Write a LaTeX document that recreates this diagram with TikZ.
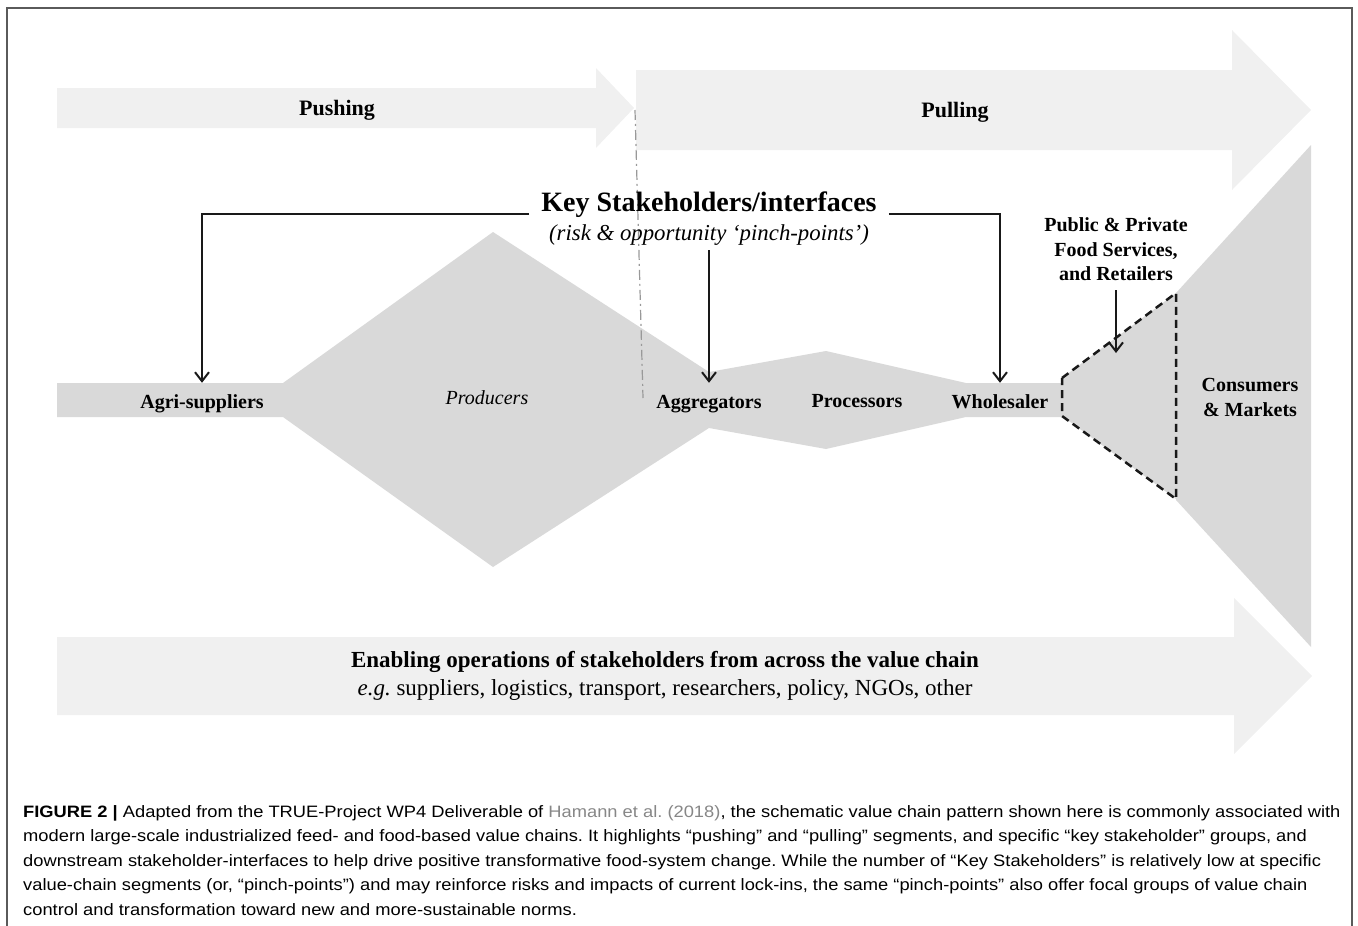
\documentclass[tikz,border=0pt]{standalone}
\usepackage{fontspec}
\setmainfont{Liberation Serif}
\newfontfamily\captionfont[FakeStretch=1.11]{Liberation Sans}
\usepackage{tikz}
\usepackage{xcolor}
\usetikzlibrary{positioning, arrows.meta}
\definecolor{vcarrow}{RGB}{240, 240, 240}
\definecolor{vcgray}{RGB}{217, 217, 217}
\definecolor{vcline}{RGB}{25, 25, 25}
\definecolor{vcframe}{RGB}{90, 90, 90}
\definecolor{vclink}{RGB}{135, 135, 135}
\tikzset{
    flowarrow/.style={fill=vcarrow, draw=none},
    chainshape/.style={fill=vcgray, draw=none},
    stagelabel/.style={font=\fontsize{20pt}{24pt}\selectfont\bfseries, text height=14pt, text depth=4pt, inner xsep=2pt, inner ysep=11pt, anchor=base},
    bandlabel/.style={font=\fontsize{22pt}{26pt}\selectfont\bfseries},
    keylink/.style={draw=vcline, line width=2pt, -{Straight Barb[length=9pt, width=14pt]}},
    pinchzone/.style={draw=vcline, line width=2.5pt, dash pattern=on 8pt off 5pt, fill=vcgray},
    divider/.style={draw=gray!80, line width=1.2pt, dash pattern=on 10pt off 4pt on 2pt off 4pt}
}
\frenchspacing

\begin{document}
\begin{tikzpicture}[x=1pt, y=-1pt]
\useasboundingbox (0,0) rectangle (1358,926);
\draw[vcframe, line width=1.2pt] (7,926) -- (7,8) -- (1352,8) -- (1352,926);

% pushing, pulling and enabling bands
\fill[flowarrow] (57,88) -- (596,88) -- (596,68) -- (634,108) -- (596,148) -- (596,128) -- (57,128) -- cycle;
\fill[flowarrow] (636,70) -- (1232,70) -- (1232,30) -- (1311,110) -- (1232,190) -- (1232,150) -- (636,150) -- cycle;
\fill[flowarrow] (57,637) -- (1234,637) -- (1234,598) -- (1312,676) -- (1234,754) -- (1234,715) -- (57,715) -- cycle;

% the value chain itself
\fill[chainshape] (57,383) -- (283,383) -- (493,232) -- (709,372) -- (826,351) -- (966,383) -- (1062,383)
    -- (1062,417) -- (966,417) -- (826,449) -- (709,428) -- (493,567) -- (283,417) -- (57,417) -- cycle;
\fill[chainshape] (1176,293) -- (1311,145) -- (1311,647) -- (1176,500) -- cycle;
\draw[pinchzone] (1062,378) -- (1176,293) -- (1176,499) -- (1062,416) -- cycle;
\draw[divider] (635,110) -- (643,398);

\node[bandlabel] (push) at (337,110) {Pushing};
\node[bandlabel] (pull) at (955,112) {Pulling};

\node[font=\fontsize{28pt}{32pt}\selectfont\bfseries, inner xsep=12pt, anchor=base] (ks) at (709,211) {Key Stakeholders/interfaces};
\node[font=\fontsize{22.8pt}{26pt}\selectfont\itshape, text depth=5pt, inner ysep=5pt, anchor=base] (ksub) at (709,240) {(risk \& opportunity ‘pinch-points’)};

\node[stagelabel] (agri) at (202,408) {Agri-suppliers};
\node[stagelabel, font=\fontsize{20pt}{24pt}\selectfont\itshape] (prod) at (487,404) {Producers};
\node[stagelabel] (aggr) at (709,408) {Aggregators};
\node[stagelabel] (proc) at (857,407) {Processors};
\node[stagelabel] (whole) at (1000,408) {Wholesaler};
\node[font=\fontsize{20pt}{25pt}\selectfont\bfseries, align=center] (cons) at (1250,397) {Consumers\\\& Markets};
\node[font=\fontsize{20pt}{24.5pt}\selectfont\bfseries, align=center, anchor=south, inner xsep=4pt, inner ysep=9pt] (pub) at (1116,290) {Public \& Private\\Food Services,\\and Retailers};
\coordinate (pubtip) at (1116,353);

\draw[keylink] ([yshift=-3pt]ks.base west) -| (agri.north);
\draw[keylink] ([yshift=-3pt]ks.base east) -| (whole.north);
\draw[keylink] (ksub.south) -- (aggr.north);
\draw[keylink] (pub.south) -- (pubtip);

\node[font=\fontsize{23pt}{28pt}\selectfont, align=center] (enab) at (665,676)
    {\textbf{Enabling operations of stakeholders from across the value chain}\\\textit{e.g.}\ suppliers, logistics, transport, researchers, policy, NGOs, other};

% caption
\node[font=\captionfont\fontsize{16.5pt}{24.5pt}\selectfont, align=left, anchor=north west, inner sep=0pt] (cap) at (23,805)
    {\textbf{FIGURE 2 |} Adapted from the TRUE-Project WP4 Deliverable of {\color{vclink}Hamann et al. (2018)}, the schematic value chain pattern shown here is commonly associated with\\
    modern large-scale industrialized feed- and food-based value chains. It highlights “pushing” and “pulling” segments, and specific “key stakeholder” groups, and\\
    downstream stakeholder-interfaces to help drive positive transformative food-system change. While the number of “Key Stakeholders” is relatively low at specific\\
    value-chain segments (or, “pinch-points”) and may reinforce risks and impacts of current lock-ins, the same “pinch-points” also offer focal groups of value chain\\
    control and transformation toward new and more-sustainable norms.};
\end{tikzpicture}
\end{document}
